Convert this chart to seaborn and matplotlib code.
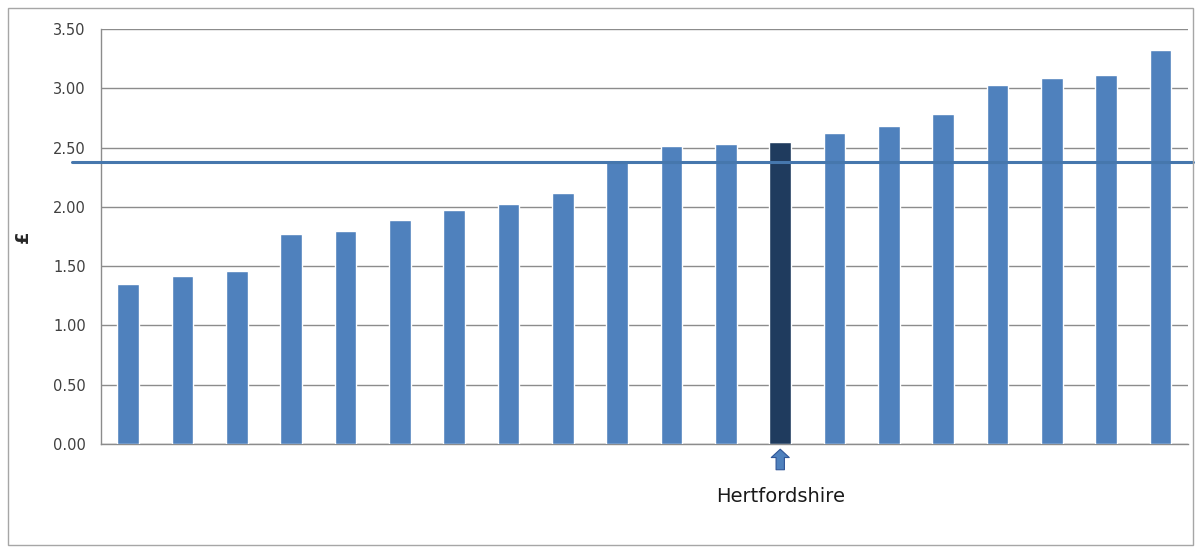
import matplotlib
matplotlib.use("Agg")
import matplotlib.pyplot as plt
import seaborn as sns
import pandas as pd
from matplotlib.patches import Rectangle

# --- data ---
areas = [f"LA{i}" for i in range(1, 21)]
costs = [1.35, 1.42, 1.46, 1.77, 1.80, 1.89, 1.97, 2.02, 2.12, 2.39,
         2.51, 2.53, 2.55, 2.62, 2.68, 2.78, 3.03, 3.09, 3.11, 3.32]
highlight = "LA13"
highlight_label = "Hertfordshire"
average = 2.38
yticks = [0.0, 0.5, 1.0, 1.5, 2.0, 2.5, 3.0, 3.5]

BAR = "#4F81BD"
DARK = "#1F3B5E"
LINE = "#4677AD"
GRID = "#8C8C8C"

df = pd.DataFrame({"area": areas, "cost": costs})
colors = [DARK if a == highlight else BAR for a in areas]

sns.set_style("white")
plt.rcParams['font.family'] = ['DejaVu Sans']

fig = plt.figure(figsize=(12.01, 5.53), dpi=100)
ax = fig.add_axes([0.0841, 0.197, 0.9049, 0.7506])

# outer chart border
fig.patches.append(Rectangle((8 / 1201, 8 / 553), 1185 / 1201, 537 / 553,
                             transform=fig.transFigure, fill=False,
                             edgecolor="#A6A6A6", linewidth=1))

sns.barplot(data=df, x="area", y="cost", hue="area", palette=colors,
            legend=False, width=0.4, saturation=1, ax=ax, zorder=3)

ax.set_ylim(0, 3.5)
ax.set_xlim(-0.5, len(areas) - 0.5)
ax.set_yticks(yticks)
ax.set_yticklabels([f"{t:.2f}" for t in yticks], fontsize=10.5, color="#404040")
ax.set_xticks([])
ax.set_xlabel("")
ax.set_ylabel("£", fontsize=13, fontweight="bold")
ax.yaxis.set_label_coords(-0.064, 0.5)
ax.yaxis.grid(True, color=GRID, linewidth=1)
ax.tick_params(axis="y", length=5, color=GRID, width=1, pad=6)

for s in ["top", "right"]:
    ax.spines[s].set_visible(False)
for s in ["left", "bottom"]:
    ax.spines[s].set_color(GRID)
    ax.spines[s].set_linewidth(1)

# average line, running a little past the plot area
ax.plot([-0.027, 1.005], [average, average], transform=ax.get_yaxis_transform(),
        color=LINE, linewidth=2.2, clip_on=False, zorder=4)

# arrow + label under the highlighted bar
hx = areas.index(highlight)
ax.annotate("", xy=(hx, -0.02), xytext=(hx, -0.24),
            arrowprops=dict(arrowstyle="simple,head_width=1.3,head_length=0.6,tail_width=0.6",
                            fc=BAR, ec="#2F5597", lw=0.8),
            annotation_clip=False)
ax.text(hx, -0.36, highlight_label, ha="center", va="top", fontsize=14,
        color="#1A1A1A", clip_on=False)

fig.savefig("out.png", dpi=100)
